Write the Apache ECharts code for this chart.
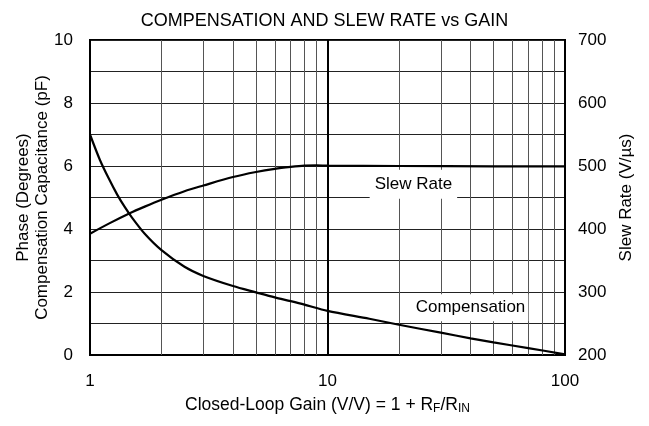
<!DOCTYPE html>
<html>
<head>
<meta charset="utf-8">
<script src="https://cdn.jsdelivr.net/npm/echarts@6/dist/echarts.min.js"></script>
<style>
  html, body { margin: 0; padding: 0; background: #fff; }
  #chart { width: 649px; height: 426px; }
</style>
</head>
<body>
<div id="chart"></div>
<script>
// closed-loop gain (V/V)
const gainComp = [1, 1.1, 1.2, 1.3, 1.4, 1.5, 1.7, 2, 2.5, 3, 4, 5, 6, 7, 8, 10, 15, 20, 30, 40, 50, 70, 100]
// compensation capacitance (pF)
const compValues = [7.0, 6.2, 5.6, 5.1, 4.7, 4.37, 3.85, 3.33, 2.80, 2.51, 2.19, 1.99, 1.83, 1.71, 1.60, 1.40, 1.15, 0.96, 0.71, 0.53, 0.40, 0.22, 0.02]

const gainSlew = [1, 1.2, 1.47, 1.7, 2, 2.5, 3, 4, 5, 6, 7, 8, 9, 10, 20, 50, 100]
// slew rate (V/us)
const slewValues = [392.5, 408.5, 425, 435.5, 446.5, 460, 469, 482.5, 490.5, 495.5, 498.5, 500.5, 501, 500.5, 500, 499.5, 499.5]

// minor vertical grid lines of the log axis
const minorGains = [2, 3, 4, 5, 6, 7, 8, 9, 20, 30, 40, 50, 60, 70, 80, 90]

const FONT = 'Liberation Sans'
const chart = echarts.init(document.getElementById('chart'))

const option = {
  animation: false,
  textStyle: { fontFamily: FONT },
  title: {
    text: 'COMPENSATION AND SLEW RATE vs GAIN',
    left: 'center',
    top: 7,
    textStyle: { fontFamily: FONT, fontSize: 18, fontWeight: 'normal', color: '#000' }
  },
  grid: {
    left: 90, right: 84, top: 40, bottom: 71,
    outerBoundsMode: 'none',
    show: true, borderColor: '#000', borderWidth: 2
  },
  xAxis: {
    type: 'log',
    logBase: 10,
    min: 1,
    max: 100,
    axisLine: { lineStyle: { color: '#000', width: 2 } },
    axisTick: { show: false },
    axisLabel: { color: '#000', fontSize: 17, margin: 18, fontFamily: FONT },
    splitLine: { show: true, lineStyle: { color: '#000', width: 2 } },
    name: '{n|Closed-Loop Gain (V/V) = 1 + R}{s|F}{n|/R}{s|IN}',
    nameLocation: 'middle',
    nameGap: 41,
    nameTextStyle: {
      rich: {
        n: { fontSize: 17.5, color: '#000', fontFamily: FONT },
        s: { fontSize: 12, color: '#000', fontFamily: FONT, verticalAlign: 'bottom', padding: [7, 0, 0, 0] }
      }
    }
  },
  yAxis: [
    {
      type: 'value',
      min: 0, max: 10, interval: 2,
      axisLine: { show: true, lineStyle: { color: '#000', width: 2 } },
      axisTick: { show: false },
      axisLabel: { color: '#000', fontSize: 17, margin: 17, fontFamily: FONT },
      splitLine: { show: true, lineStyle: { color: '#222', width: 1 } },
      minorTick: { show: false, splitNumber: 2 },
      minorSplitLine: { show: true, lineStyle: { color: '#222', width: 1 } },
      name: 'Phase (Degrees)\nCompensation Capacitance (pF)',
      nameLocation: 'middle',
      nameRotate: 90,
      nameGap: 38,
      nameMoveOverlap: false,
      nameTextStyle: { fontSize: 17, color: '#000', lineHeight: 19, fontFamily: FONT }
    },
    {
      type: 'value',
      min: 200, max: 700, interval: 100,
      position: 'right',
      axisLine: { show: true, lineStyle: { color: '#000', width: 2 } },
      axisTick: { show: false },
      axisLabel: { color: '#000', fontSize: 17, margin: 13, fontFamily: FONT },
      splitLine: { show: false },
      name: 'Slew Rate (V/µs)',
      nameLocation: 'middle',
      nameRotate: 90,
      nameGap: 53,
      nameTextStyle: { fontSize: 17, color: '#000', fontFamily: FONT }
    }
  ],
  series: [
    {
      name: 'grid',
      type: 'line',
      data: [],
      silent: true,
      markLine: {
        silent: true,
        symbol: 'none',
        label: { show: false },
        lineStyle: { color: '#555', width: 1, type: 'solid' },
        data: minorGains.map(g => ({ xAxis: g }))
      }
    },
    {
      name: 'Compensation',
      type: 'line',
      yAxisIndex: 0,
      smooth: 0.3,
      showSymbol: false,
      lineStyle: { color: '#000', width: 2.2 },
      data: gainComp.map((g, i) => [g, compValues[i]]),
      z: 5,
      markPoint: {
        symbolSize: 0,
        data: [{ coord: [40, 1.5] }],
        label: {
          show: true, formatter: 'Compensation', position: 'inside',
          fontSize: 17, color: '#000', fontFamily: FONT,
          backgroundColor: '#fff', padding: [5, 3, 5, 3]
        }
      }
    },
    {
      name: 'Slew Rate',
      type: 'line',
      yAxisIndex: 1,
      smooth: 0.3,
      showSymbol: false,
      lineStyle: { color: '#000', width: 2.2 },
      data: gainSlew.map((g, i) => [g, slewValues[i]]),
      z: 5,
      markPoint: {
        symbolSize: 0,
        data: [{ coord: [23, 471] }],
        label: {
          show: true, formatter: 'Slew Rate', position: 'inside',
          fontSize: 17, color: '#000', fontFamily: FONT,
          backgroundColor: '#fff', padding: [6, 5, 6, 5]
        }
      }
    }
  ]
}

chart.setOption(option)
</script>
</body>
</html>
